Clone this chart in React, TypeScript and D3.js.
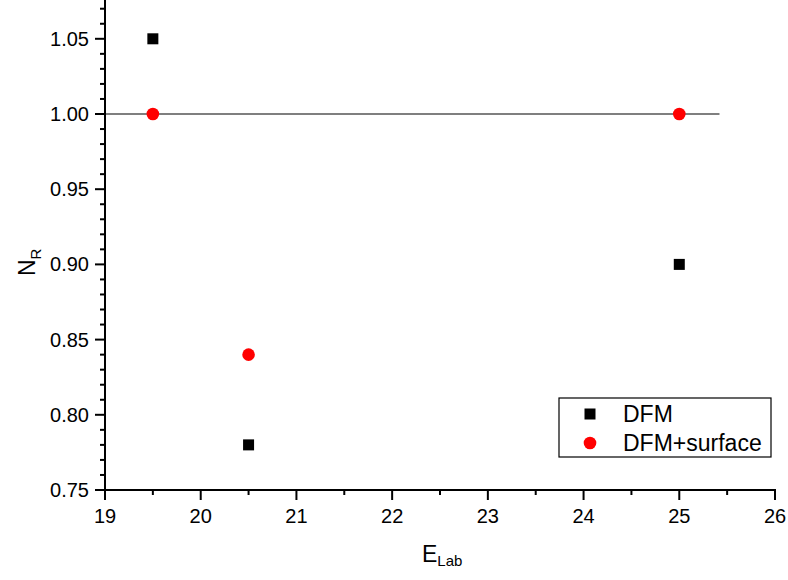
import React from "react";
import * as d3 from "d3";

const dfmX = [19.5, 20.5, 25];
const dfmY = [1.05, 0.78, 0.9];
const surfX = [19.5, 20.5, 25];
const surfY = [1.0, 0.84, 1.0];
const xTicks = [19, 20, 21, 22, 23, 24, 25, 26];
const yTicks = [0.75, 0.8, 0.85, 0.9, 0.95, 1.0, 1.05];
const refLineX = [19, 25.42];
const refLineY = 1.0;
const legendLabels = ["DFM", "DFM+surface"];

const W = 788;
const H = 580;

export default function App() {
  const x = d3.scaleLinear().domain([19, 26]).range([105, 775]);
  const y = d3.scaleLinear().domain([0.75, 1.075]).range([490, 1.2]);
  const xMinor = d3.range(19, 26.001, 0.5).filter((v) => !xTicks.includes(v));
  const yMinor = d3.range(0.75, 1.0751, 0.01).filter(
    (v) => !yTicks.some((t) => Math.abs(t - v) < 1e-6)
  );
  const font = "Liberation Sans, Arial, sans-serif";
  const sw = 2;
  return (
    <svg
      width={W}
      height={H}
      style={{ position: "absolute", left: 0, top: 0, background: "#fff" }}
      fontFamily={font}
    >
      <rect x={0} y={0} width={W} height={H} fill="#fff" />
      {/* reference line */}
      <line
        x1={x(refLineX[0])}
        x2={x(refLineX[1])}
        y1={y(refLineY)}
        y2={y(refLineY)}
        stroke="#000"
        strokeWidth={1.2}
      />
      {/* y axis */}
      <line x1={x(19)} x2={x(19)} y1={y(0.75) + 1} y2={0} stroke="#000" strokeWidth={sw} />
      {yTicks.map((t) => (
        <g key={"yt" + t}>
          <line x1={x(19) - 10} x2={x(19)} y1={y(t)} y2={y(t)} stroke="#000" strokeWidth={sw} />
          <text x={89} y={y(t)} dy="0.35em" textAnchor="end" fontSize={20}>
            {t.toFixed(2)}
          </text>
        </g>
      ))}
      {yMinor.map((t, i) => (
        <line key={"ym" + i} x1={x(19) - 5} x2={x(19)} y1={y(t)} y2={y(t)} stroke="#000" strokeWidth={sw} />
      ))}
      {/* x axis */}
      <line x1={x(19) - 1} x2={x(26) + 1} y1={y(0.75)} y2={y(0.75)} stroke="#000" strokeWidth={sw} />
      {xTicks.map((t) => (
        <g key={"xt" + t}>
          <line x1={x(t)} x2={x(t)} y1={y(0.75)} y2={y(0.75) + 10} stroke="#000" strokeWidth={sw} />
          <text x={x(t)} y={523} textAnchor="middle" fontSize={20}>
            {t}
          </text>
        </g>
      ))}
      {xMinor.map((t, i) => (
        <line key={"xm" + i} x1={x(t)} x2={x(t)} y1={y(0.75)} y2={y(0.75) + 5} stroke="#000" strokeWidth={sw} />
      ))}
      {/* axis titles */}
      <text x={422} y={562} fontSize={23}>
        E<tspan fontSize={15} dy={4}>Lab</tspan>
      </text>
      <text transform="translate(35,276) rotate(-90)" fontSize={23}>
        N<tspan fontSize={15} dy={6}>R</tspan>
      </text>
      {/* data */}
      {dfmX.map((v, i) => (
        <rect key={"d" + i} x={x(v) - 5.5} y={y(dfmY[i]) - 5.5} width={11} height={11} fill="#000" />
      ))}
      {surfX.map((v, i) => (
        <circle key={"s" + i} cx={x(v)} cy={y(surfY[i])} r={6.3} fill="#ff0000" />
      ))}
      {/* legend */}
      <rect x={559} y={398} width={212} height={59} fill="#fff" stroke="#000" strokeWidth={1.2} />
      <rect x={590 - 5.5} y={414 - 5.5} width={11} height={11} fill="#000" />
      <circle cx={590} cy={443} r={6.3} fill="#ff0000" />
      <text x={623} y={422} fontSize={23}>{legendLabels[0]}</text>
      <text x={623} y={451} fontSize={23}>{legendLabels[1]}</text>
    </svg>
  );
}
